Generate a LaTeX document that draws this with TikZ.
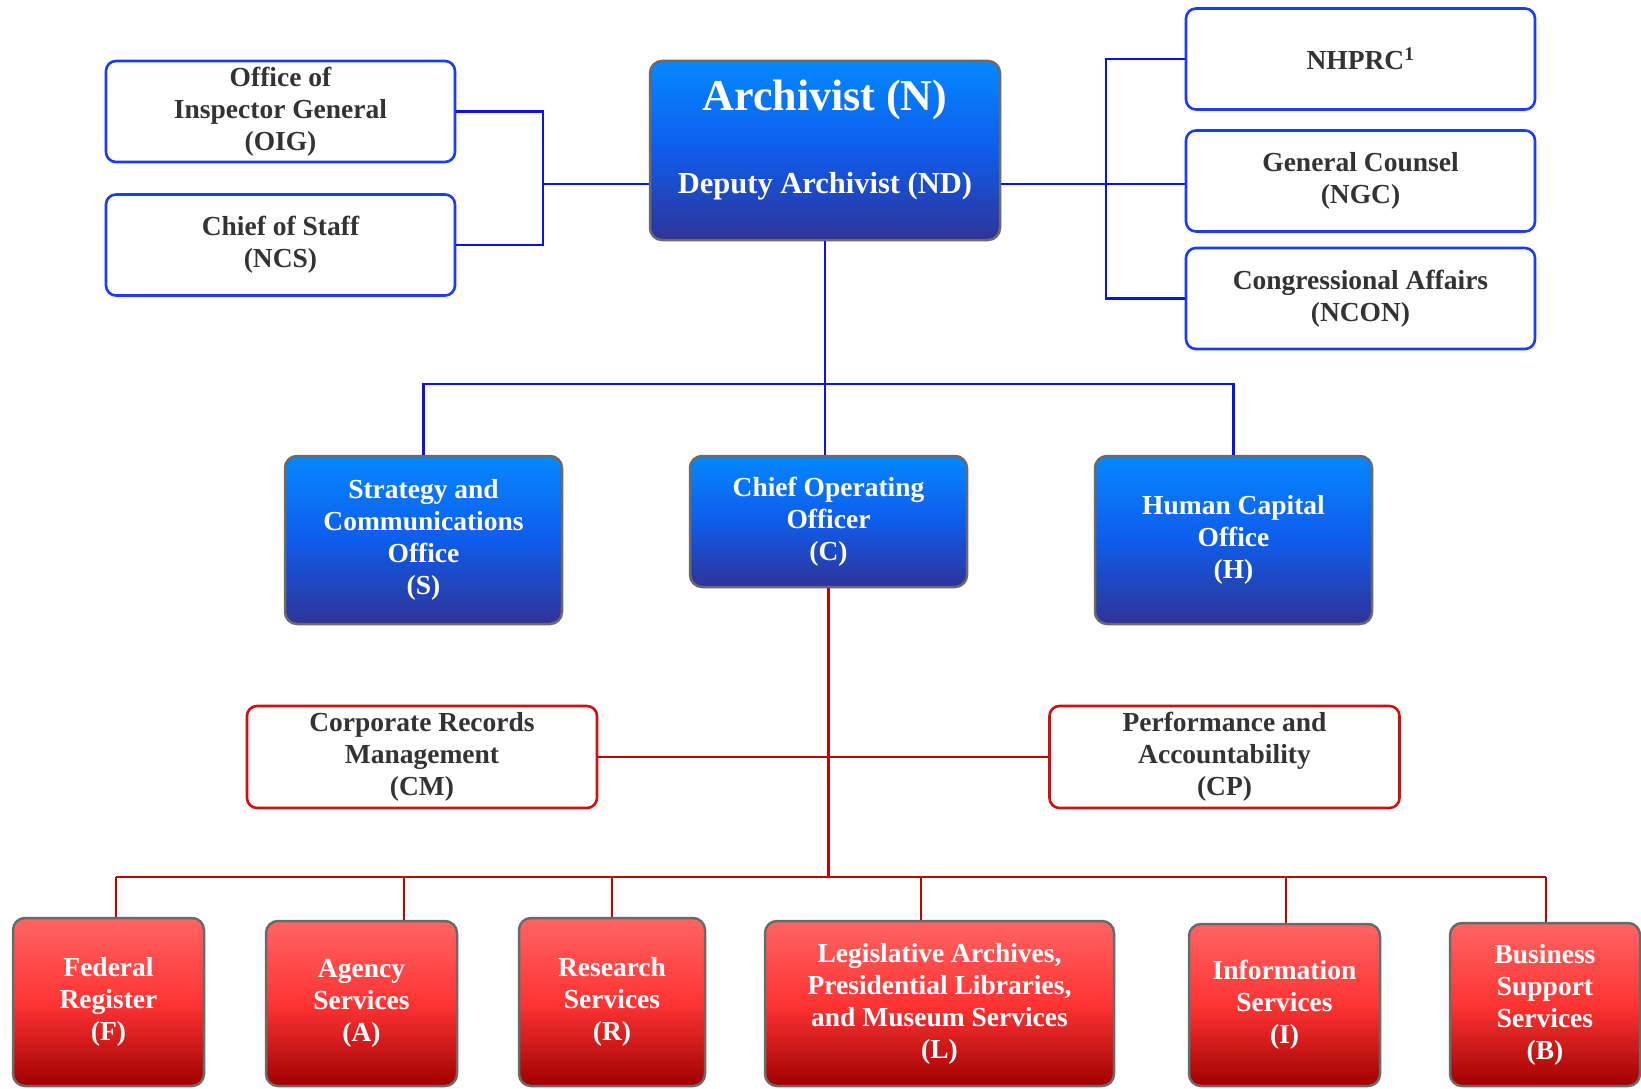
\documentclass[tikz,border=0pt]{standalone}
\usepackage{fontspec}
\setmainfont{Liberation Serif}
\definecolor{oblue}{HTML}{1A3CF5}
\definecolor{lblue}{HTML}{0A14E6}
\definecolor{ored}{HTML}{D01010}
\definecolor{lred}{HTML}{C80000}
\definecolor{txtgray}{HTML}{333333}
\definecolor{bgray}{HTML}{6A6A6A}
\definecolor{btop}{HTML}{0488FF}
\definecolor{bmid}{HTML}{0F5CEB}
\definecolor{bbot}{HTML}{2F3397}
\definecolor{rtop}{HTML}{FF6464}
\definecolor{rmid}{HTML}{FF3434}
\definecolor{rbot}{HTML}{A00000}
\tikzset{
  txt/.style={font=\bfseries\fontsize{27.5}{32}\selectfont, align=center},
  obox/.style={txt, draw=#1, line width=2.6pt, rounded corners=10pt, fill=white,
    text=txtgray, minimum width=349pt, minimum height=101pt, inner sep=0pt},
  bbox/.style={txt, draw=bgray, line width=2.5pt, rounded corners=12pt,
    top color=btop, bottom color=bbot, middle color=bmid, text=white,
    minimum width=277pt, inner sep=0pt},
  rbox/.style={txt, draw=bgray, line width=2.5pt, rounded corners=12pt,
    top color=rtop, bottom color=rbot, middle color=rmid, text=white,
    inner sep=0pt},
  bline/.style={draw=lblue, line width=2.6pt},
  rline/.style={draw=lred, line width=2.6pt},
}
\begin{document}
\begin{tikzpicture}[x=1pt,y=-1pt]
\useasboundingbox (0,0) rectangle (1641,1089);
\coordinate (lb) at (543,184);
\coordinate (rb) at (1106,184);
\coordinate (tb) at (826,384);
\coordinate (dF) at (116,877);
\coordinate (dA) at (404,877);
\coordinate (dR) at (612,877);
\coordinate (dL) at (921,877);
\coordinate (dI) at (1286,877);
\coordinate (dB) at (1546,877);
% ---- top row
\node[obox=oblue] (OIG) at (280.5,111.5) {Office of\\Inspector General\\(OIG)};
\node[obox=oblue] (NCS) at (280.5,245) {Chief of Staff\\(NCS)};
\node[bbox, minimum width=350pt, minimum height=179pt] (N) at (825,150.5) {};
\node[text=white, font=\bfseries\fontsize{44}{50}\selectfont] (Nt) at (825,100) {Archivist (N)};
\node[text=white, font=\bfseries\fontsize{30.5}{35}\selectfont] (Nd) at (825,186.5) {Deputy Archivist (ND)};
\node[obox=oblue] (NHPRC) at (1360.5,59) {NHPRC\textsuperscript{1}};
\node[obox=oblue] (NGC) at (1360.5,181) {General Counsel\\(NGC)};
\node[obox=oblue] (NCON) at (1360.5,298.5) {Congressional Affairs\\(NCON)};
% ---- second row
\node[bbox, minimum height=168pt] (S) at (423.5,540) {Strategy and\\Communications\\Office\\(S)};
\node[bbox, minimum height=131pt] (C) at (828.5,521.5) {Chief Operating\\Officer\\(C)};
\node[bbox, minimum height=168pt] (H) at (1233.5,540) {Human Capital\\Office\\(H)};
% ---- third row
\node[obox=ored, minimum width=350pt, minimum height=102pt] (CM) at (422,757) {Corporate Records\\Management\\(CM)};
\node[obox=ored, minimum width=350pt, minimum height=102pt] (CP) at (1224.5,757) {Performance and\\Accountability\\(CP)};
% ---- bottom row
\node[rbox, minimum width=191pt, minimum height=168pt] (F) at (108.5,1002) {Federal\\Register\\(F)};
\node[rbox, minimum width=191pt, minimum height=165pt] (A) at (361.5,1003.5) {Agency\\Services\\(A)};
\node[rbox, minimum width=186pt, minimum height=168pt] (R) at (612,1002) {Research\\Services\\(R)};
\node[rbox, minimum width=349pt, minimum height=165pt] (L) at (939.5,1003.5) {Legislative Archives,\\Presidential Libraries,\\and Museum Services\\(L)};
\node[rbox, minimum width=191pt, minimum height=162pt] (I) at (1284.5,1005) {Information\\Services\\(I)};
\node[rbox, minimum width=190pt, minimum height=163pt] (B) at (1545,1004.5) {Business\\Support\\Services\\(B)};
% ---- connectors
\draw[bline] (OIG.east) -| (lb) |- (NCS.east);
\draw[bline] (lb) -- (lb -| N.west);
\draw[bline] (NHPRC.west) -| (rb) |- (NCON.west);
\draw[bline] (rb -| N.east) -- (rb -| NGC.west);
\draw[bline] (N.south) -- (N.south |- C.north);
\draw[bline] (S.north) |- (tb) -| (H.north);
\draw[rline] (C.south) -- (C.south |- dF);
\draw[rline] (CM.east) -- (CP.west);
\draw[rline] (dF) -- (dB);
\draw[rline] (dF) -- (dF |- F.north);
\draw[rline] (dA) -- (dA |- A.north);
\draw[rline] (dR) -- (dR |- R.north);
\draw[rline] (dL) -- (dL |- L.north);
\draw[rline] (dI) -- (dI |- I.north);
\draw[rline] (dB) -- (dB |- B.north);
\end{tikzpicture}
\end{document}
